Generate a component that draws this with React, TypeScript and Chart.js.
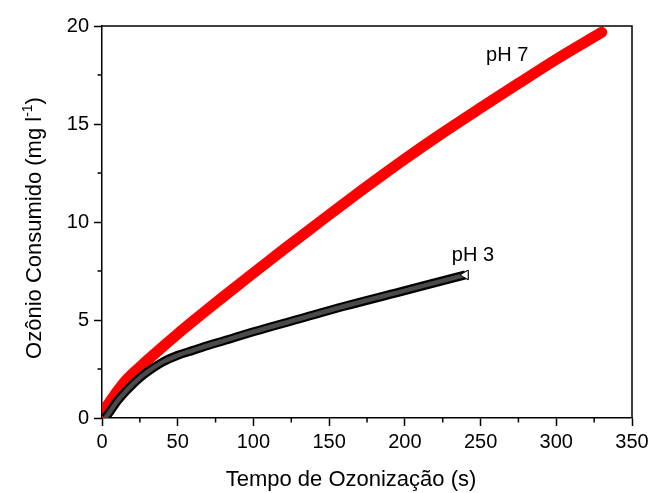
import React, { useEffect, useRef } from "react";
import { Chart, registerables } from "chart.js";

Chart.register(...registerables);

// pH 7 series (time in s, ozone consumed mg/l)
const timePH7 = [0, 5, 10, 15, 20, 25, 30, 40, 50, 60, 70, 80, 100, 120, 150, 175, 200, 225, 250, 275, 300, 330];
const valuesPH7 = [0.25, 0.8, 1.35, 1.85, 2.25, 2.6, 2.95, 3.63, 4.29, 4.93, 5.56, 6.18, 7.4, 8.6, 10.37, 11.82, 13.22, 14.55, 15.82, 17.07, 18.3, 19.68];

// pH 3 series
const timePH3 = [2, 5, 10, 15, 20, 25, 30, 40, 50, 60, 70, 80, 100, 130, 160, 200, 240];
const valuesPH3 = [0.0, 0.3, 0.85, 1.3, 1.7, 2.05, 2.35, 2.85, 3.2, 3.45, 3.7, 3.93, 4.4, 5.05, 5.7, 6.5, 7.3];

const xTickValues = [0, 50, 100, 150, 200, 250, 300, 350];
const yTickValues = [0, 5, 10, 15, 20];
const xMinorTicks = [25, 75, 125, 175, 225, 275, 325];
const yMinorTicks = [2.5, 7.5, 12.5, 17.5];

const xTitle = "Tempo de Ozonização (s)";
const yTitleMain = "Ozônio Consumido (mg l";
const yTitleSup = "-1";
const yTitleEnd = ")";

// series label anchors (data coordinates)
const labelPH7 = { text: "pH 7", x: 253.6, y: 18.5 };
const labelPH3 = { text: "pH 3", x: 231, y: 8.3 };

const FONT = "'Liberation Sans', Arial, Helvetica, sans-serif";

const decorPlugin = {
  id: "decor",
  afterDatasetsDraw(chart: any) {
    const ctx = chart.ctx;
    const area = chart.chartArea;
    // inner gray of pH 3 band
    const meta = chart.getDatasetMeta(0);
    if (meta && meta.dataset) {
      ctx.save();
      ctx.beginPath();
      ctx.rect(area.left, area.top, area.right - area.left, area.bottom - area.top);
      ctx.clip();
      ctx.beginPath();
      meta.dataset.path(ctx);
      ctx.strokeStyle = "#4a4a4a";
      ctx.lineWidth = 4.5;
      ctx.lineJoin = "round";
      ctx.lineCap = "butt";
      ctx.stroke();
      ctx.restore();
      const last = meta.data[meta.data.length - 1];
      if (last) last.draw(ctx, area);
    }
  },
  afterDraw(chart: any) {
    const ctx = chart.ctx;
    const area = chart.chartArea;
    const xs = chart.scales.x;
    const ys = chart.scales.y;
    ctx.save();
    ctx.strokeStyle = "#000";
    ctx.lineWidth = 1.5;
    // frame top and right
    ctx.beginPath();
    ctx.moveTo(area.left, area.top);
    ctx.lineTo(area.right, area.top);
    ctx.lineTo(area.right, area.bottom);
    ctx.stroke();
    // minor ticks
    ctx.beginPath();
    xMinorTicks.forEach((v) => {
      const px = xs.getPixelForValue(v);
      ctx.moveTo(px, area.bottom);
      ctx.lineTo(px, area.bottom + 4.5);
    });
    yMinorTicks.forEach((v) => {
      const py = ys.getPixelForValue(v);
      ctx.moveTo(area.left, py);
      ctx.lineTo(area.left - 4.5, py);
    });
    ctx.stroke();

    ctx.fillStyle = "#000";
    // x title
    ctx.font = `22px ${FONT}`;
    ctx.textAlign = "center";
    ctx.textBaseline = "alphabetic";
    ctx.fillText(xTitle, 351, 486);

    // y title with superscript
    ctx.save();
    ctx.translate(41, 228);
    ctx.rotate(-Math.PI / 2);
    ctx.font = `22px ${FONT}`;
    const wMain = ctx.measureText(yTitleMain).width;
    ctx.font = `14px ${FONT}`;
    const wSup = ctx.measureText(yTitleSup).width;
    ctx.font = `22px ${FONT}`;
    const wEnd = ctx.measureText(yTitleEnd).width;
    const total = wMain + wSup + wEnd;
    let x0 = -total / 2;
    ctx.textAlign = "left";
    ctx.fillText(yTitleMain, x0, 0);
    x0 += wMain;
    ctx.font = `14px ${FONT}`;
    ctx.fillText(yTitleSup, x0, -9);
    x0 += wSup;
    ctx.font = `22px ${FONT}`;
    ctx.fillText(yTitleEnd, x0, 0);
    ctx.restore();

    // series labels
    ctx.font = `20px ${FONT}`;
    ctx.textAlign = "left";
    ctx.textBaseline = "middle";
    [labelPH7, labelPH3].forEach((l) => {
      ctx.fillText(l.text, xs.getPixelForValue(l.x), ys.getPixelForValue(l.y));
    });
    ctx.restore();
  },
};

export default function App() {
  const ref = useRef<HTMLCanvasElement | null>(null);
  useEffect(() => {
    if (!ref.current) return;
    const chart = new Chart(ref.current, {
      type: "line",
      data: {
        datasets: [
          {
            label: "pH 3",
            data: timePH3.map((t, i) => ({ x: t, y: valuesPH3[i] })),
            borderColor: "#000",
            borderWidth: 9,
            borderCapStyle: "butt",
            borderJoinStyle: "round",
            cubicInterpolationMode: "monotone",
            pointStyle: "triangle",
            pointRotation: -90,
            pointRadius: (c: any) => (c.dataIndex === timePH3.length - 1 ? 5.5 : 0),
            pointBackgroundColor: "#fff",
            pointBorderColor: "#000",
            pointBorderWidth: 1,
            order: 0,
          } as any,
          {
            label: "pH 7",
            data: timePH7.map((t, i) => ({ x: t, y: valuesPH7[i] })),
            borderColor: "#ff0000",
            borderWidth: 11,
            borderCapStyle: "round",
            borderJoinStyle: "round",
            cubicInterpolationMode: "monotone",
            pointRadius: 0,
            order: 1,
          } as any,
        ],
      },
      options: {
        animation: false,
        responsive: false,
        layout: { padding: { top: 26, right: 22, left: 0, bottom: 0 } },
        plugins: { legend: { display: false }, tooltip: { enabled: false } },
        scales: {
          x: {
            type: "linear",
            min: 0,
            max: 350,
            afterFit: (s: any) => {
              s.height = 75;
            },
            afterBuildTicks: (s: any) => {
              s.ticks = xTickValues.map((v) => ({ value: v }));
            },
            ticks: {
              color: "#000",
              padding: 4,
              maxRotation: 0,
              font: { family: FONT, size: 20 },
            },
            grid: {
              drawOnChartArea: false,
              drawTicks: true,
              tickLength: 8,
              tickWidth: 1.5,
              tickColor: "#000",
            },
            border: { display: true, color: "#000", width: 1.5 },
          },
          y: {
            type: "linear",
            min: 0,
            max: 20,
            afterFit: (s: any) => {
              s.width = 102;
            },
            afterBuildTicks: (s: any) => {
              s.ticks = yTickValues.map((v) => ({ value: v }));
            },
            ticks: {
              color: "#000",
              padding: 5,
              font: { family: FONT, size: 20 },
            },
            grid: {
              drawOnChartArea: false,
              drawTicks: true,
              tickLength: 8,
              tickWidth: 1.5,
              tickColor: "#000",
            },
            border: { display: true, color: "#000", width: 1.5 },
          },
        },
      },
      plugins: [decorPlugin],
    } as any);
    return () => chart.destroy();
  }, []);
  return (
    <div style={{ position: "absolute", left: 0, top: 0, width: 654, height: 493, background: "#fff" }}>
      <canvas ref={ref} width={654} height={493} style={{ width: 654, height: 493, display: "block" }} />
    </div>
  );
}
